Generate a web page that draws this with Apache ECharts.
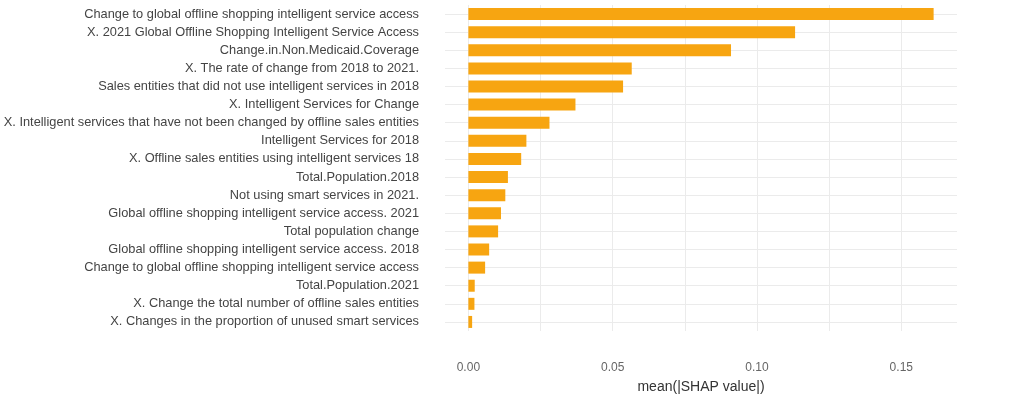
<!DOCTYPE html>
<html>
<head>
<meta charset="utf-8">
<script src="https://cdn.jsdelivr.net/npm/echarts@6/dist/echarts.min.js"></script>
<style>
  html, body { margin: 0; padding: 0; background: #fff; }
  #chart { width: 1034px; height: 399px; }
</style>
</head>
<body>
<div id="chart"></div>
<script>
// features, top to bottom
const features = [
    'Change to global offline shopping intelligent service access',
    'X. 2021 Global Offline Shopping Intelligent Service Access',
    'Change.in.Non.Medicaid.Coverage',
    'X. The rate of change from 2018 to 2021.',
    'Sales entities that did not use intelligent services in 2018',
    'X. Intelligent Services for Change',
    'X. Intelligent services that have not been changed by offline sales entities',
    'Intelligent Services for 2018',
    'X. Offline sales entities using intelligent services 18',
    'Total.Population.2018',
    'Not using smart services in 2021.',
    'Global offline shopping intelligent service access. 2021',
    'Total population change',
    'Global offline shopping intelligent service access. 2018',
    'Change to global offline shopping intelligent service access',
    'Total.Population.2021',
    'X. Change the total number of offline sales entities',
    'X. Changes in the proportion of unused smart services'
];

// mean(|SHAP value|)
const shapValues = [
    0.1612, 0.1132, 0.0910, 0.0566, 0.0536, 0.0371, 0.0281, 0.0201, 0.0183,
    0.0137, 0.0128, 0.0113, 0.0103, 0.0072, 0.0058, 0.0022, 0.0021, 0.0013
];

const gridTicks = [0, 0.025, 0.05, 0.075, 0.10, 0.125, 0.15];
const labelTicks = [0, 0.05, 0.10, 0.15];

const chart = echarts.init(document.getElementById('chart'), null, { renderer: 'canvas' });

chart.setOption({
    animation: false,
    backgroundColor: '#ffffff',
    textStyle: { fontFamily: 'Liberation Sans, Arial, sans-serif' },
    grid: {
        left: 445,
        right: 77,
        top: 5,
        bottom: 68,
        containLabel: false
    },
    xAxis: {
        type: 'value',
        min: -0.0081,
        max: 0.1693,
        axisLine: { show: false },
        axisTick: { show: false, customValues: gridTicks },
        axisLabel: {
            customValues: labelTicks,
            margin: 31,
            fontSize: 12,
            color: '#666',
            formatter: v => v.toFixed(2)
        },
        splitLine: { show: true, lineStyle: { color: '#ebebeb', width: 1 } },
        name: 'mean(|SHAP value|)',
        nameLocation: 'middle',
        nameGap: 49,
        nameTextStyle: { fontSize: 14, color: '#333' }
    },
    yAxis: {
        type: 'category',
        data: features,
        inverse: true,
        axisLine: { show: false },
        axisTick: { show: false, alignWithLabel: true },
        axisLabel: { margin: 26, fontSize: 12.8, color: '#444' },
        splitLine: { show: true, alignWithLabel: true, lineStyle: { color: '#ebebeb', width: 1 } }
    },
    series: [{
        type: 'bar',
        data: shapValues,
        barWidth: 12,
        itemStyle: { color: '#f7a511' }
    }]
});
</script>
</body>
</html>
